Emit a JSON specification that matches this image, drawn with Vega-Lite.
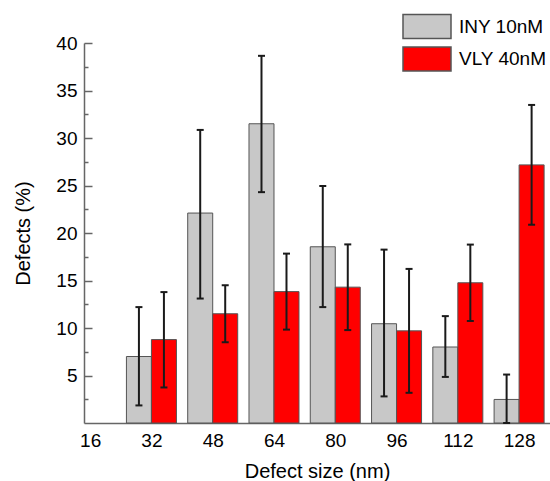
{
  "$schema": "https://vega.github.io/schema/vega-lite/v6.json",
  "width": 466,
  "height": 380,
  "autosize": {"type": "none"},
  "padding": {"left": 84, "top": 43, "right": 0, "bottom": 58},
  "background": "white",
  "config": {
    "font": "Liberation Sans",
    "view": {"stroke": null},
    "axis": {"grid": false}
  },
  "data": {
    "values": [
      {"series": "INY 10nM", "size": 32, "value": 7.0, "lo": 1.85, "hi": 12.2},
      {"series": "INY 10nM", "size": 48, "value": 22.1, "lo": 13.1, "hi": 30.85},
      {"series": "INY 10nM", "size": 64, "value": 31.5, "lo": 24.3, "hi": 38.65},
      {"series": "INY 10nM", "size": 80, "value": 18.55, "lo": 12.2, "hi": 24.95},
      {"series": "INY 10nM", "size": 96, "value": 10.45, "lo": 2.8, "hi": 18.25},
      {"series": "INY 10nM", "size": 112, "value": 8.0, "lo": 4.85, "hi": 11.25},
      {"series": "INY 10nM", "size": 128, "value": 2.48, "lo": 0, "hi": 5.1},
      {"series": "VLY 40nM", "size": 32, "value": 8.78, "lo": 3.74, "hi": 13.78},
      {"series": "VLY 40nM", "size": 48, "value": 11.5, "lo": 8.5, "hi": 14.5},
      {"series": "VLY 40nM", "size": 64, "value": 13.83, "lo": 9.83, "hi": 17.83},
      {"series": "VLY 40nM", "size": 80, "value": 14.3, "lo": 9.78, "hi": 18.8},
      {"series": "VLY 40nM", "size": 96, "value": 9.7, "lo": 3.18, "hi": 16.22},
      {"series": "VLY 40nM", "size": 112, "value": 14.76, "lo": 10.74, "hi": 18.78},
      {"series": "VLY 40nM", "size": 128, "value": 27.17, "lo": 20.87, "hi": 33.48}
    ]
  },
  "encoding": {
    "x": {
      "field": "size",
      "type": "quantitative",
      "scale": {"domain": [15.7, 134.76], "nice": false, "zero": false},
      "axis": {
        "values": [16, 32, 48, 64, 80, 96, 112, 128],
        "ticks": false,
        "labelPadding": 8.5,
        "labelFontSize": 19,
        "labelColor": "black",
        "labelFlush": false,
        "domainColor": "#666666",
        "domainWidth": 1.5,
        "title": "Defect size (nm)",
        "titleFontSize": 20,
        "titleFontWeight": "normal",
        "titleColor": "black",
        "titleBaseline": "alphabetic",
        "titleX": 233,
        "titleY": 54
      }
    }
  },
  "layer": [
    {
      "transform": [{"filter": "datum.series === 'INY 10nM'"}],
      "mark": {"type": "bar", "size": 25, "xOffset": -12.5, "stroke": "#555555", "strokeWidth": 1},
      "encoding": {
        "y": {
          "field": "value",
          "type": "quantitative",
          "scale": {"domain": [0, 40], "nice": false},
          "axis": {
            "values": [5, 10, 15, 20, 25, 30, 35, 40],
            "tickSize": -8,
            "tickColor": "#666666",
            "tickWidth": 1.5,
            "domainColor": "#666666",
            "domainWidth": 1.5,
            "labelPadding": 15,
            "labelFontSize": 19,
            "labelColor": "black",
            "labelFlush": false,
            "title": "Defects (%)",
            "titleFontSize": 20,
            "titleFontWeight": "normal",
            "titleColor": "black",
            "titleAngle": -90,
            "titleBaseline": "alphabetic",
            "titleX": -54.5,
            "titleY": 190
          }
        },
        "color": {
          "field": "series",
          "type": "nominal",
          "scale": {"domain": ["INY 10nM", "VLY 40nM"], "range": ["#c8c8c8", "#ff0000"]},
          "legend": {
            "title": null,
            "orient": "none",
            "legendX": 330,
            "legendY": -29.4,
            "padding": 0,
            "symbolType": "M-2,-1H2V1H-2Z",
            "symbolSize": 576,
            "symbolStrokeColor": "#555555",
            "symbolStrokeWidth": 1.5,
            "symbolOpacity": 1,
            "labelOffset": 19,
            "labelFontSize": 19,
            "labelColor": "black",
            "labelBaseline": "middle",
            "rowPadding": 2.3
          }
        }
      }
    },
    {
      "transform": [{"filter": "datum.series === 'VLY 40nM'"}],
      "mark": {"type": "bar", "size": 25, "xOffset": 12.5, "stroke": "#555555", "strokeWidth": 1},
      "encoding": {
        "y": {"field": "value", "type": "quantitative", "axis": null},
        "color": {"field": "series", "type": "nominal"}
      }
    },
    {
      "transform": [{"filter": "datum.series === 'INY 10nM'"}],
      "mark": {"type": "rule", "xOffset": -12.5, "color": "#1a1a1a", "strokeWidth": 2},
      "encoding": {
        "y": {
          "field": "lo",
          "type": "quantitative",
          "axis": {
            "orient": "left",
            "values": [2.5, 7.5, 12.5, 17.5, 22.5, 27.5, 32.5, 37.5],
            "labels": false,
            "domain": false,
            "tickSize": -4,
            "tickColor": "#666666",
            "tickWidth": 1.5,
            "title": null
          }
        },
        "y2": {"field": "hi"}
      }
    },
    {
      "transform": [{"filter": "datum.series === 'VLY 40nM'"}],
      "mark": {"type": "rule", "xOffset": 12.5, "color": "#1a1a1a", "strokeWidth": 2},
      "encoding": {
        "y": {"field": "lo", "type": "quantitative", "axis": null},
        "y2": {"field": "hi"}
      }
    },
    {
      "transform": [{"filter": "datum.series === 'INY 10nM'"}],
      "mark": {"type": "tick", "orient": "horizontal", "xOffset": -12.5, "color": "#1a1a1a", "size": 7, "thickness": 2, "opacity": 1},
      "encoding": {"y": {"field": "hi", "type": "quantitative", "axis": null}}
    },
    {
      "transform": [{"filter": "datum.series === 'INY 10nM'"}],
      "mark": {"type": "tick", "orient": "horizontal", "xOffset": -12.5, "color": "#1a1a1a", "size": 7, "thickness": 2, "opacity": 1},
      "encoding": {"y": {"field": "lo", "type": "quantitative", "axis": null}}
    },
    {
      "transform": [{"filter": "datum.series === 'VLY 40nM'"}],
      "mark": {"type": "tick", "orient": "horizontal", "xOffset": 12.5, "color": "#1a1a1a", "size": 7, "thickness": 2, "opacity": 1},
      "encoding": {"y": {"field": "hi", "type": "quantitative", "axis": null}}
    },
    {
      "transform": [{"filter": "datum.series === 'VLY 40nM'"}],
      "mark": {"type": "tick", "orient": "horizontal", "xOffset": 12.5, "color": "#1a1a1a", "size": 7, "thickness": 2, "opacity": 1},
      "encoding": {"y": {"field": "lo", "type": "quantitative", "axis": null}}
    }
  ],
  "resolve": {"axis": {"y": "independent"}}
}
